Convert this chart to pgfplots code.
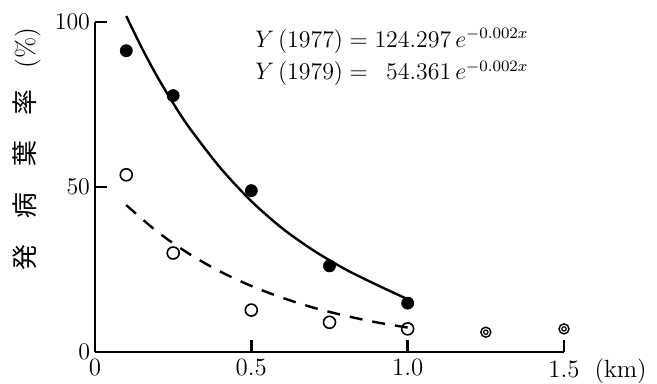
\documentclass[border=0pt]{standalone}
\usepackage{pgfplots}
\pgfplotsset{compat=1.18}
\usepackage{fontspec}
\newfontfamily\jp{Noto Sans CJK JP}
\begin{document}
\begin{tikzpicture}
\path[use as bounding box] (-47.5bp,-16bp) rectangle (281bp,176bp);
\begin{axis}[
  scale only axis, width=234.5bp, height=165bp,
  xmin=0, xmax=1.5, ymin=0, ymax=100,
  axis lines=left, axis line style={-, line width=1.2bp},
  xtick={0,0.5,1,1.5}, xticklabels={0,0.5,1.0,{1.5\rlap{\hspace{0.6em}(km)}}},
  ytick={0,50,100},
  tick align=inside, major tick length=6bp,
  tick style={line width=1.2bp, black},
  clip=false,
  tick label style={font=\fontsize{12.5}{14}\selectfont},
  yticklabel style={xshift=1bp},
]
\addplot[line width=1.2bp, smooth] coordinates {
(0.10,101.8)(0.15,92.1)(0.20,83.3)(0.25,75.4)(0.30,68.2)(0.40,55.9)(0.50,45.7)(0.60,37.4)(0.70,30.7)(0.80,25.1)(0.90,20.4)(1.00,16.0)};
\addplot[line width=1.2bp, dash pattern=on 6.5bp off 5bp, smooth] coordinates {
(0.1,44.5)(0.2,36.4)(0.3,29.8)(0.4,24.4)(0.5,20.0)(0.6,16.4)(0.7,13.4)(0.8,11.0)(0.9,9.0)(1.0,7.4)};
\addplot[only marks, mark=*, mark size=3bp, mark options={fill=black}] coordinates {
(0.1,91.3)(0.25,77.7)(0.5,48.9)(0.75,26.1)(1.0,14.8)};
\addplot[only marks, mark=o, mark size=3bp, mark options={line width=0.8bp, fill=white}] coordinates {
(0.1,53.7)(0.25,30.0)(0.5,12.7)(0.75,9.0)(1.0,7.0)};
\addplot[only marks, mark=o, mark size=2.5bp, mark options={line width=0.7bp}] coordinates {
(1.25,6.0)(1.5,7.0)};
\addplot[only marks, mark=o, mark size=1.1bp, mark options={line width=0.6bp}] coordinates {
(1.25,6.0)(1.5,7.0)};
\node[anchor=west, font=\fontsize{12}{14}\selectfont, inner sep=0pt] at (rel axis cs:0.341,0.891) {%
\begin{tabular}{@{}l@{}r@{\,}l@{}}
$Y\,(1977)={}$ & $124.297$ & $e^{-0.002x}$\\[2.5pt]
$Y\,(1979)={}$ & $54.361$ & $e^{-0.002x}$
\end{tabular}};
\node[rotate=90, font=\fontsize{13}{15}\selectfont, inner sep=0pt] at (rel axis cs:-0.146,0.615)
{{\jp 発}\hspace{1em}{\jp 病}\hspace{1em}{\jp 葉}\hspace{1em}{\jp 率}\hspace{0.8em}(\%)};
\end{axis}
\end{tikzpicture}
\end{document}
